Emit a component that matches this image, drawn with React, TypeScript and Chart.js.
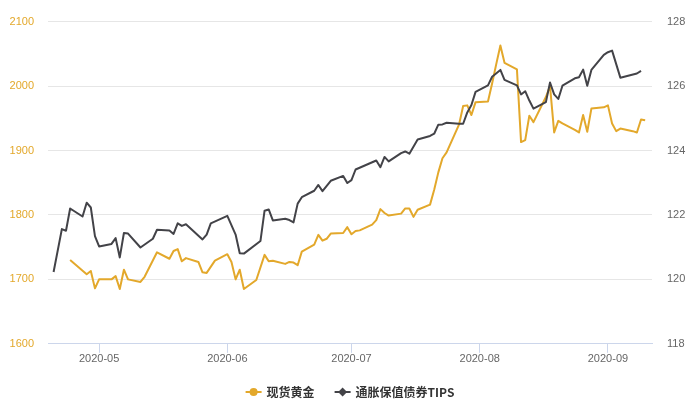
import React, { useEffect, useRef } from "react";
import { Chart, registerables } from "chart.js";

Chart.register(...registerables);

const seriesNames = ["现货黄金", "通胀保值债券TIPS"];

const goldDates = [
  "2020-04-24", "2020-04-28", "2020-04-29", "2020-04-30", "2020-05-01", "2020-05-04", "2020-05-05", "2020-05-06",
  "2020-05-07", "2020-05-08", "2020-05-11", "2020-05-12", "2020-05-15", "2020-05-18", "2020-05-19", "2020-05-20",
  "2020-05-21", "2020-05-22", "2020-05-25", "2020-05-26", "2020-05-27", "2020-05-29", "2020-06-01", "2020-06-02",
  "2020-06-03", "2020-06-04", "2020-06-05", "2020-06-08", "2020-06-10", "2020-06-11", "2020-06-12", "2020-06-15",
  "2020-06-16", "2020-06-17", "2020-06-18", "2020-06-19", "2020-06-22", "2020-06-23", "2020-06-24", "2020-06-25",
  "2020-06-26", "2020-06-29", "2020-06-30", "2020-07-01", "2020-07-02", "2020-07-03", "2020-07-06", "2020-07-07",
  "2020-07-08", "2020-07-09", "2020-07-10", "2020-07-13", "2020-07-14", "2020-07-15", "2020-07-16", "2020-07-17",
  "2020-07-20", "2020-07-21", "2020-07-22", "2020-07-23", "2020-07-24", "2020-07-27", "2020-07-28", "2020-07-29",
  "2020-07-30", "2020-07-31", "2020-08-03", "2020-08-04", "2020-08-05", "2020-08-06", "2020-08-07", "2020-08-10",
  "2020-08-11", "2020-08-12", "2020-08-13", "2020-08-14", "2020-08-17", "2020-08-18", "2020-08-19", "2020-08-20",
  "2020-08-21", "2020-08-24", "2020-08-25", "2020-08-26", "2020-08-27", "2020-08-28", "2020-08-31", "2020-09-01",
  "2020-09-02", "2020-09-03", "2020-09-04", "2020-09-07", "2020-09-08", "2020-09-09", "2020-09-10",
];
const goldValues = [
  1730, 1708, 1713, 1686, 1700, 1700, 1705, 1685,
  1715, 1700, 1696, 1704, 1742, 1732, 1744, 1747,
  1728, 1733, 1727, 1711, 1710, 1729, 1739, 1727,
  1700, 1715, 1685, 1699, 1738, 1728, 1729, 1724,
  1727, 1726, 1722, 1743, 1754, 1769, 1760, 1763,
  1771, 1772, 1781, 1770, 1775, 1776, 1785, 1792,
  1809, 1803, 1799, 1802, 1810, 1810, 1797, 1808,
  1816, 1839, 1866, 1888, 1897, 1940, 1969, 1970,
  1955, 1975, 1976, 2004, 2034, 2063, 2036, 2026,
  1913, 1916, 1954, 1944, 1983, 2000, 1928, 1946,
  1942, 1932, 1928, 1955, 1929, 1965, 1967, 1970,
  1942, 1930, 1934, 1930, 1928, 1948, 1947,
];

const tipsDates = [
  "2020-04-20", "2020-04-22", "2020-04-23", "2020-04-24", "2020-04-27", "2020-04-28", "2020-04-29", "2020-04-30",
  "2020-05-01", "2020-05-04", "2020-05-05", "2020-05-06", "2020-05-07", "2020-05-08", "2020-05-11", "2020-05-14",
  "2020-05-15", "2020-05-18", "2020-05-19", "2020-05-20", "2020-05-21", "2020-05-22", "2020-05-26", "2020-05-27",
  "2020-05-28", "2020-06-01", "2020-06-03", "2020-06-04", "2020-06-05", "2020-06-09", "2020-06-10", "2020-06-11",
  "2020-06-12", "2020-06-15", "2020-06-16", "2020-06-17", "2020-06-18", "2020-06-19", "2020-06-22", "2020-06-23",
  "2020-06-24", "2020-06-26", "2020-06-29", "2020-06-30", "2020-07-01", "2020-07-02", "2020-07-07", "2020-07-08",
  "2020-07-09", "2020-07-10", "2020-07-13", "2020-07-14", "2020-07-15", "2020-07-17", "2020-07-20", "2020-07-21",
  "2020-07-22", "2020-07-23", "2020-07-24", "2020-07-27", "2020-07-28", "2020-07-29", "2020-07-30", "2020-07-31",
  "2020-08-03", "2020-08-04", "2020-08-06", "2020-08-07", "2020-08-10", "2020-08-11", "2020-08-12", "2020-08-13",
  "2020-08-14", "2020-08-17", "2020-08-18", "2020-08-19", "2020-08-20", "2020-08-21", "2020-08-24", "2020-08-25",
  "2020-08-26", "2020-08-27", "2020-08-28", "2020-08-31", "2020-09-01", "2020-09-02", "2020-09-04", "2020-09-08",
  "2020-09-09",
];
const tipsValues = [
  120.23, 121.56, 121.51, 122.2, 121.95, 122.38, 122.23, 121.34,
  121.02, 121.1, 121.28, 120.68, 121.44, 121.42, 120.99, 121.26,
  121.54, 121.52, 121.41, 121.74, 121.66, 121.71, 121.24, 121.39,
  121.74, 121.97, 121.39, 120.81, 120.8, 121.19, 122.13, 122.17,
  121.83, 121.88, 121.84, 121.77, 122.35, 122.55, 122.75, 122.93,
  122.74, 123.06, 123.21, 122.99, 123.08, 123.41, 123.69, 123.48,
  123.8, 123.66, 123.92, 123.97, 123.9, 124.34, 124.45, 124.52,
  124.8, 124.81, 124.86, 124.83, 124.83, 125.18, 125.41, 125.82,
  126.02, 126.29, 126.5, 126.19, 126.02, 125.74, 125.84, 125.55,
  125.3, 125.5, 126.11, 125.74, 125.6, 126.01, 126.24, 126.27,
  126.51, 126.01, 126.5, 126.97, 127.05, 127.1, 126.26, 126.39,
  126.47,
];

const xTickLabels = ["2020-05", "2020-06", "2020-07", "2020-08", "2020-09"];
const leftRange = [1600, 2100, 100];
const rightRange = [118, 128, 2];

const GOLD = "#e3a82b";
const TIPS = "#434348";
const BASE = Date.parse("2020-05-01");
const dayOf = (s: string) => (Date.parse(s) - BASE) / 86400000;
const TICK_FONT = "'Liberation Sans', Arial, sans-serif";

const legendPlugin = {
  id: "hcLegend",
  afterDraw(chart: any) {
    const ctx = chart.ctx;
    ctx.save();
    ctx.font = "bold 12px 'Noto Sans CJK SC', sans-serif";
    const sym = 16, symPad = 5, dist = 20;
    const items = chart.data.datasets.map((ds: any, i: number) => ({
      label: ds.label,
      color: ds.borderColor,
      shape: i === 0 ? "circle" : "diamond",
      w: ctx.measureText(ds.label).width,
    }));
    const total = items.reduce((a: number, it: any) => a + sym + symPad + it.w, 0) + dist * (items.length - 1);
    let x = chart.width / 2 - total / 2;
    const y = chart.height - 8;
    ctx.textBaseline = "middle";
    ctx.textAlign = "left";
    for (const it of items) {
      ctx.strokeStyle = it.color;
      ctx.lineWidth = 2;
      ctx.beginPath();
      ctx.moveTo(x, y);
      ctx.lineTo(x + sym, y);
      ctx.stroke();
      ctx.fillStyle = it.color;
      const cx = x + sym / 2;
      ctx.beginPath();
      if (it.shape === "circle") {
        ctx.arc(cx, y, 4, 0, Math.PI * 2);
      } else {
        ctx.moveTo(cx, y - 4.5);
        ctx.lineTo(cx + 4.5, y);
        ctx.lineTo(cx, y + 4.5);
        ctx.lineTo(cx - 4.5, y);
        ctx.closePath();
      }
      ctx.fill();
      ctx.fillStyle = "#333333";
      ctx.fillText(it.label, x + sym + symPad, y + 0.5);
      x += sym + symPad + it.w + dist;
    }
    ctx.restore();
  },
};

export default function App() {
  const ref = useRef<HTMLCanvasElement | null>(null);
  useEffect(() => {
    if (!ref.current) return;
    const chart = new Chart(ref.current, {
      type: "line",
      data: {
        datasets: [
          {
            label: seriesNames[0],
            data: goldDates.map((d, i) => ({ x: dayOf(d), y: goldValues[i] })),
            borderColor: GOLD,
            backgroundColor: GOLD,
            borderWidth: 2,
            pointRadius: 0,
            pointHoverRadius: 0,
            tension: 0,
            borderJoinStyle: "round",
            yAxisID: "yL",
            order: 1,
          },
          {
            label: seriesNames[1],
            data: tipsDates.map((d, i) => ({ x: dayOf(d), y: tipsValues[i] })),
            borderColor: TIPS,
            backgroundColor: TIPS,
            borderWidth: 2,
            pointRadius: 0,
            pointHoverRadius: 0,
            tension: 0,
            borderJoinStyle: "round",
            yAxisID: "yR",
            order: 0,
          },
        ],
      },
      options: {
        animation: false,
        responsive: true,
        maintainAspectRatio: false,
        layout: { padding: { top: 13.5, bottom: 34, left: 0, right: 0 } },
        plugins: { legend: { display: false }, tooltip: { enabled: false } },
        scales: {
          x: {
            type: "linear",
            min: -12.35,
            max: 133.65,
            afterBuildTicks: (scale: any) => {
              scale.ticks = xTickLabels.map((l) => ({ value: dayOf(l + "-01") }));
            },
            ticks: {
              autoSkip: false,
              maxRotation: 0,
              padding: 0,
              color: "#666666",
              font: { size: 11, family: TICK_FONT },
              callback: (_v: any, i: number) => xTickLabels[i],
            },
            grid: { drawOnChartArea: false, drawTicks: true, tickLength: 9, color: "#ccd6eb" },
            border: { display: true, color: "#ccd6eb", width: 1 },
          },
          yL: {
            type: "linear",
            position: "left",
            min: leftRange[0],
            max: leftRange[1],
            ticks: {
              stepSize: leftRange[2],
              color: GOLD,
              padding: 14,
              font: { size: 11, family: TICK_FONT },
              callback: (v: any) => String(v),
            },
            grid: { color: "#e6e6e6", drawTicks: false },
            border: { display: false },
            afterFit: (s: any) => {
              s.width = 48;
            },
          },
          yR: {
            type: "linear",
            position: "right",
            min: rightRange[0],
            max: rightRange[1],
            ticks: {
              stepSize: rightRange[2],
              color: "#666666",
              padding: 15,
              font: { size: 11, family: TICK_FONT },
              callback: (v: any) => String(v),
            },
            grid: { drawOnChartArea: false, drawTicks: false },
            border: { display: false },
            afterFit: (s: any) => {
              s.width = 48;
            },
          },
        },
      } as any,
      plugins: [legendPlugin],
    });
    return () => chart.destroy();
  }, []);
  return (
    <div style={{ position: "fixed", left: 0, top: 0, width: 700, height: 400, background: "#ffffff" }}>
      <canvas ref={ref} />
    </div>
  );
}
